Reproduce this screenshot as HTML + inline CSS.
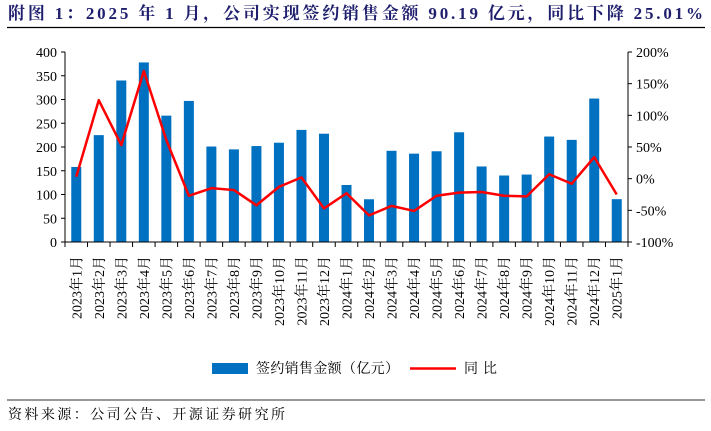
<!DOCTYPE html>
<html><head><meta charset="utf-8"><style>
body{margin:0;background:#fff;width:711px;height:431px;overflow:hidden}
svg{display:block}
text{font-family:"Liberation Serif","Noto Serif CJK SC",serif}
</style></head><body>
<svg id="chart" width="711" height="431">
<text x="8" y="19" font-size="17" font-weight="bold" fill="#1f1f6e" textLength="695" lengthAdjust="spacing">附图 1：2025 年 1 月，公司实现签约销售金额 90.19 亿元，同比下降 25.01%</text>
<line x1="7" y1="27.5" x2="705" y2="27.5" stroke="#000" stroke-width="1.2"/>
<line x1="7" y1="400" x2="705" y2="400" stroke="#777" stroke-width="1.5"/>
<text x="8" y="419" font-size="14" fill="#000" textLength="277" lengthAdjust="spacing">资料来源：公司公告、开源证券研究所</text>
<g id="plot"></g>
<g>
<rect x="212" y="363" width="36" height="11" fill="#0070c0"/>
<text x="256" y="373" font-size="14" textLength="143" lengthAdjust="spacing">签约销售金额（亿元）</text>
<line x1="410" y1="368.5" x2="456" y2="368.5" stroke="#ff0000" stroke-width="2.5"/>
<text x="464" y="373" font-size="14" textLength="33" lengthAdjust="spacing">同比</text>
</g>
</svg>
<script>
const categories=["2023年1月","2023年2月","2023年3月","2023年4月","2023年5月","2023年6月","2023年7月","2023年8月","2023年9月","2023年10月","2023年11月","2023年12月","2024年1月","2024年2月","2024年3月","2024年4月","2024年5月","2024年6月","2024年7月","2024年8月","2024年9月","2024年10月","2024年11月","2024年12月","2025年1月"];
const sales=[158,225,340,378,266,297,201,195,202,209,236,228,120,90,192,186,191,231,159,140,142,222,215,302,90.19];
const yoy=[3,124,53,170,61,-27,-15,-18,-42,-13,2,-47,-23,-58,-43,-51,-27,-22,-21,-27,-28,7,-8,34,-25];
const leftTicks=[0,50,100,150,200,250,300,350,400];
const rightTicks=[-100,-50,0,50,100,150,200];

const NS="http://www.w3.org/2000/svg";
const L=65,R=628,T=52,B=242;
const band=(R-L)/categories.length;
const xc=i=>L+band*(i+0.5);
const yL=v=>B-(v/400)*(B-T);
const yR=v=>B-((v+100)/300)*(B-T);
const g=document.getElementById('plot');
function mk(tag,attrs){const e=document.createElementNS(NS,tag);for(const k in attrs)e.setAttribute(k,attrs[k]);g.appendChild(e);return e;}

sales.forEach((v,i)=>{
  const e=mk('rect',{x:xc(i)-5,y:yL(v),width:10,height:B-yL(v),fill:'#0070c0'});
  
  
});
let a=mk('line',{x1:L,y1:T,x2:L,y2:B,stroke:'#000'});


a=mk('line',{x1:R,y1:T,x2:R,y2:B,stroke:'#000'});


a=mk('line',{x1:L,y1:B,x2:R,y2:B,stroke:'#000'});


leftTicks.forEach(v=>{
  mk('line',{x1:L-4,y1:yL(v),x2:L,y2:yL(v),stroke:'#000'});
  const t=mk('text',{x:L-8,y:yL(v)+5,'text-anchor':'end','font-size':14});
  t.textContent=v;
  
  
});
rightTicks.forEach(v=>{
  mk('line',{x1:R,y1:yR(v),x2:R+4,y2:yR(v),stroke:'#000'});
  const t=mk('text',{x:R+8,y:yR(v)+5,'font-size':14});
  t.textContent=v+'%';
  
  
});
for(let i=0;i<=categories.length;i++){
  mk('line',{x1:L+band*i,y1:B,x2:L+band*i,y2:B+5,stroke:'#000'});
}
categories.forEach((c,i)=>{
  const t=mk('text',{x:0,y:0,'font-size':14,'text-anchor':'end',transform:`translate(${xc(i)+5},256) rotate(-90)`});
  t.textContent=c;
  
  
});
const pl=mk('polyline',{points:yoy.map((v,i)=>xc(i)+','+yR(v)).join(' '),fill:'none',stroke:'#ff0000','stroke-width':2.5,'stroke-linejoin':'round'});


</script>
</body></html>
